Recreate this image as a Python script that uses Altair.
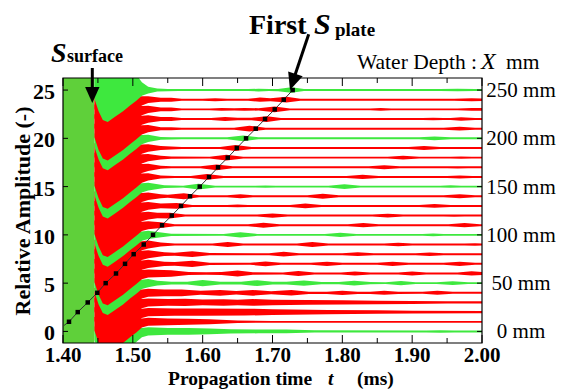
import altair as alt
import pandas as pd

W, H = 419, 265
X_DOMAIN = [1.40, 2.00]
Y_DOMAIN = [-1.2, 26.25]
FONT = "Liberation Serif"
GREEN = "#3ee83e"
RED = "#ff0000"
SAT_GREEN = "#5fd03a"

# ---- saturated early part (all traces overlap) ----
saturated_start = [1.400]
saturated_end = [1.445]

# ---- shared envelope of the strong surface echo (offset below / above each trace) ----
dense_t = [1.445, 1.451, 1.457, 1.464, 1.474, 1.486, 1.496, 1.505, 1.513]
dense_lo = [0.9, 2.2, 3.1, 3.3, 2.8, 2.2, 1.6, 1.1, 0.6]
dense_hi = [0.5, 0.5, 0.5, 0.5, 0.5, 0.5, 0.45, 0.35, 0.35]
dense_hi_top = [2.0, 2.0, 2.0, 2.0, 2.0, 2.0, 2.0, 1.6, 0.8]

# ---- tail envelopes (time ms, half amplitude) per water depth trace ----
env_0 = [(1.522,0.42),(1.55,0.35),(1.58,0.35),(1.61,0.3),(1.64,0.22),(1.68,0.2),(1.72,0.2),(1.76,0.12),(1.92,0.1),(1.94,0.13),(1.96,0.1),(2.0,0.1)]
env_1 = [(1.522,0.42),(1.55,0.35),(1.58,0.3),(1.61,0.25),(1.65,0.12),(1.70,0.09),(2.0,0.09)]
env_2 = [(1.522,0.42),(1.56,0.38),(1.60,0.38),(1.66,0.36),(1.70,0.3),(1.78,0.22),(1.85,0.18),(1.90,0.14),(2.0,0.12)]
env_3 = [(1.522,0.42),(1.55,0.35),(1.575,0.38),(1.60,0.3),(1.63,0.33),(1.65,0.28),(1.672,0.35),(1.70,0.28),(1.75,0.25),(1.80,0.22),(1.85,0.18),(1.90,0.15),(1.95,0.12),(2.0,0.12)]
env_4 = [(1.522,0.42),(1.545,0.35),(1.57,0.35),(1.597,0.2),(1.625,0.3),(1.648,0.18),(1.672,0.3),(1.698,0.15),(1.727,0.28),(1.752,0.12),(1.778,0.12),(1.80,0.22),(1.822,0.12),(1.84,0.12),(1.86,0.2),(1.88,0.12),(1.915,0.1),(1.936,0.2),(1.958,0.1),(2.0,0.1)]
env_5 = [(1.522,0.42),(1.535,0.25),(1.555,0.15),(1.578,0.15),(1.60,0.33),(1.625,0.15),(1.655,0.15),(1.678,0.3),(1.70,0.15),(1.72,0.15),(1.745,0.28),(1.77,0.12),(1.795,0.12),(1.817,0.25),(1.84,0.12),(1.862,0.1),(1.884,0.22),(1.905,0.1),(1.935,0.1),(1.958,0.2),(1.98,0.1),(2.0,0.1)]
env_6 = [(1.522,0.42),(1.555,0.33),(1.58,0.15),(1.605,0.12),(1.627,0.15),(1.65,0.3),(1.672,0.12),(1.715,0.1),(1.737,0.25),(1.76,0.1),(1.798,0.1),(1.818,0.2),(1.84,0.1),(1.88,0.1),(1.90,0.2),(1.92,0.1),(1.965,0.1),(1.985,0.22),(2.0,0.15)]
env_7 = [(1.522,0.42),(1.545,0.22),(1.56,0.2),(1.585,0.33),(1.61,0.12),(1.668,0.1),(1.69,0.25),(1.712,0.1),(1.755,0.1),(1.778,0.22),(1.80,0.1),(1.85,0.1),(1.872,0.22),(1.895,0.1),(1.945,0.1),(1.968,0.22),(1.99,0.1),(2.0,0.1)]
env_8 = [(1.522,0.42),(1.545,0.2),(1.56,0.15),(1.585,0.3),(1.61,0.12),(1.695,0.1),(1.716,0.25),(1.738,0.1),(1.80,0.1),(1.822,0.2),(1.845,0.1),(1.905,0.1),(1.925,0.18),(1.945,0.1),(2.0,0.1)]
env_9 = [(1.522,0.42),(1.54,0.2),(1.56,0.1),(1.614,0.1),(1.636,0.25),(1.658,0.1),(1.735,0.1),(1.757,0.25),(1.78,0.1),(1.86,0.1),(1.88,0.18),(1.90,0.1),(1.975,0.1),(1.99,0.12),(2.0,0.1)]
env_10 = [(1.522,0.42),(1.535,0.3),(1.555,0.12),(1.63,0.1),(1.654,0.27),(1.678,0.1),(1.775,0.1),(1.797,0.22),(1.82,0.1),(1.915,0.1),(1.93,0.15),(1.945,0.1),(2.0,0.1)]
env_11 = [(1.522,0.42),(1.54,0.3),(1.56,0.1),(1.665,0.1),(1.687,0.25),(1.71,0.1),(1.808,0.1),(1.83,0.22),(1.852,0.1),(1.952,0.1),(1.975,0.22),(1.997,0.1),(2.0,0.1)]
env_12 = [(1.522,0.4),(1.535,0.28),(1.553,0.3),(1.575,0.1),(1.678,0.1),(1.70,0.22),(1.722,0.1),(1.843,0.1),(1.865,0.2),(1.887,0.1),(1.945,0.1),(1.96,0.12),(1.975,0.1),(2.0,0.1)]
env_13 = [(1.522,0.4),(1.54,0.25),(1.563,0.3),(1.585,0.1),(1.635,0.1),(1.65,0.15),(1.665,0.1),(1.725,0.1),(1.747,0.25),(1.77,0.1),(1.91,0.1),(1.932,0.2),(1.955,0.1),(2.0,0.1)]
env_14 = [(1.522,0.4),(1.54,0.2),(1.55,0.15),(1.573,0.3),(1.595,0.1),(1.635,0.1),(1.654,0.2),(1.672,0.1),(1.75,0.1),(1.772,0.25),(1.795,0.1),(1.945,0.1),(1.968,0.2),(1.99,0.1),(2.0,0.1)]
env_15 = [(1.522,0.4),(1.545,0.15),(1.56,0.12),(1.572,0.1),(1.594,0.3),(1.618,0.1),(1.675,0.1),(1.69,0.12),(1.705,0.1),(1.78,0.1),(1.803,0.25),(1.826,0.1),(1.94,0.1),(1.955,0.13),(1.97,0.1),(2.0,0.1)]
env_16 = [(1.522,0.38),(1.54,0.15),(1.56,0.1),(1.583,0.1),(1.606,0.3),(1.63,0.1),(1.806,0.1),(1.829,0.22),(1.852,0.1),(1.95,0.1),(1.968,0.15),(1.986,0.1),(2.0,0.1)]
env_17 = [(1.522,0.38),(1.54,0.15),(1.555,0.1),(1.597,0.1),(1.62,0.3),(1.643,0.1),(1.838,0.1),(1.86,0.2),(1.882,0.1),(1.95,0.1),(1.965,0.12),(1.98,0.1),(2.0,0.1)]
env_18 = [(1.522,0.38),(1.54,0.2),(1.555,0.12),(1.61,0.1),(1.634,0.3),(1.658,0.1),(1.865,0.1),(1.887,0.2),(1.91,0.1),(1.955,0.1),(1.97,0.12),(1.985,0.1),(2.0,0.1)]
env_19 = [(1.522,0.38),(1.54,0.2),(1.555,0.15),(1.57,0.1),(1.625,0.1),(1.647,0.3),(1.67,0.1),(1.895,0.1),(1.917,0.2),(1.94,0.1),(2.0,0.1)]
env_20 = [(1.522,0.38),(1.54,0.15),(1.555,0.12),(1.57,0.1),(1.635,0.1),(1.658,0.3),(1.68,0.1),(1.91,0.1),(1.932,0.2),(1.955,0.1),(2.0,0.1)]
env_21 = [(1.522,0.38),(1.54,0.15),(1.555,0.15),(1.57,0.1),(1.645,0.1),(1.667,0.3),(1.69,0.1),(1.945,0.1),(1.968,0.2),(1.99,0.1),(2.0,0.1)]
env_22 = [(1.522,0.38),(1.54,0.2),(1.555,0.2),(1.57,0.1),(1.612,0.1),(1.632,0.2),(1.65,0.12),(1.67,0.12),(1.692,0.3),(1.712,0.1),(1.915,0.1),(1.93,0.12),(1.945,0.1),(1.955,0.1),(1.97,0.18),(1.99,0.1),(2.0,0.1)]
env_23 = [(1.522,0.38),(1.54,0.2),(1.555,0.2),(1.57,0.1),(1.61,0.1),(1.627,0.15),(1.645,0.12),(1.66,0.15),(1.68,0.12),(1.703,0.3),(1.725,0.1),(1.84,0.1),(1.855,0.13),(1.87,0.1),(1.965,0.1),(1.985,0.15),(2.0,0.13)]
env_24 = [(1.522,0.35),(1.54,0.2),(1.555,0.2),(1.57,0.1),(1.60,0.1),(1.618,0.15),(1.635,0.1),(1.665,0.1),(1.682,0.22),(1.697,0.15),(1.72,0.3),(1.74,0.1),(1.96,0.1),(1.985,0.15),(2.0,0.12)]
env_25 = [(1.522,0.35),(1.535,0.15),(1.55,0.12),(1.565,0.1),(1.665,0.1),(1.68,0.14),(1.695,0.1),(1.708,0.12),(1.727,0.28),(1.745,0.1),(1.94,0.1),(1.965,0.13),(1.99,0.1),(2.0,0.1)]

envelopes = [env_0, env_1, env_2, env_3, env_4, env_5, env_6, env_7, env_8, env_9,
             env_10, env_11, env_12, env_13, env_14, env_15, env_16, env_17, env_18,
             env_19, env_20, env_21, env_22, env_23, env_24, env_25]

# ---- first S_plate arrival curve ----
splate_depth = [0.62, 1, 2, 3, 4, 5, 6, 7, 8, 9, 10, 11, 12, 13, 14, 15, 16, 17, 18, 19, 20, 21, 22, 23, 24, 25]
splate_t = [1.4015, 1.4086, 1.4211, 1.4354, 1.4491, 1.4611, 1.4759, 1.4888, 1.5012, 1.5156, 1.5289,
            1.5418, 1.5557, 1.5690, 1.5819, 1.5958, 1.6091, 1.6220, 1.6359, 1.6489, 1.6621,
            1.6760, 1.6893, 1.7032, 1.7161, 1.7289]
splate_marked = [False] + [True] * 25

# ---- axes ----
x_major = [1.40, 1.50, 1.60, 1.70, 1.80, 1.90, 2.00]
x_major_labels = ["1.40", "1.50", "1.60", "1.70", "1.80", "1.90", "2.00"]
x_minor = [1.45, 1.55, 1.65, 1.75, 1.85, 1.95]
y_ticks = [0, 5, 10, 15, 20, 25]
y_left_labels = ["0", "5", "10", "15", "20", "25"]
y_right_labels = ["0 mm", "50 mm", "100 mm", "150 mm", "200 mm", "250 mm"]

# ---------------------------------------------------------------
rows = []
for n, env in enumerate(envelopes):
    hi_arr = dense_hi_top if n == 25 else dense_hi
    for t, lo, hi in zip(dense_t, dense_lo, hi_arr):
        rows.append({"trace": n, "t": t, "low": n - lo, "high": n + hi})
    for t, a in env:
        rows.append({"trace": n, "t": t, "low": n - a, "high": n + a})
trace_df = pd.DataFrame(rows)

xs = alt.Scale(domain=X_DOMAIN, nice=False, zero=False)
ys = alt.Scale(domain=Y_DOMAIN, nice=False, zero=False)

layers = []

sat_df = pd.DataFrame({"t0": saturated_start, "t1": saturated_end})
layers.append(alt.Chart(sat_df).mark_rect(color=SAT_GREEN, clip=True).encode(
    x=alt.X("t0:Q", scale=xs, axis=None), x2="t1:Q",
    y=alt.value(0), y2=alt.value(H)))

for n in range(len(envelopes)):
    col = GREEN if n % 5 == 0 else RED
    layers.append(alt.Chart(trace_df).transform_filter(alt.datum.trace == n).mark_area(
        color=col, clip=True, interpolate="linear", opacity=1).encode(
        x=alt.X("t:Q", scale=xs, axis=None),
        y=alt.Y("low:Q", scale=ys, axis=None),
        y2="high:Q"))

sp_df = pd.DataFrame({"t": splate_t, "d": splate_depth, "m": splate_marked})
layers.append(alt.Chart(sp_df).mark_line(color="#333333", strokeWidth=1, clip=True).encode(
    x=alt.X("t:Q", scale=xs, axis=None), y=alt.Y("d:Q", scale=ys, axis=None)))
layers.append(alt.Chart(sp_df).transform_filter(alt.datum.m).mark_square(
    color="black", size=20, opacity=1).encode(
    x=alt.X("t:Q", scale=xs, axis=None), y=alt.Y("d:Q", scale=ys, axis=None)))

# ticks (inward)
maj_df = pd.DataFrame({"t": x_major, "lab": x_major_labels})
min_df = pd.DataFrame({"t": x_minor})
yt_df = pd.DataFrame({"v": y_ticks, "l": y_left_labels, "r": y_right_labels})
for df_, ln in ((maj_df, 8), (min_df, 5)):
    layers.append(alt.Chart(df_).mark_rule(color="black", strokeWidth=1).encode(
        x=alt.X("t:Q", scale=xs, axis=None), y=alt.value(H), y2=alt.value(H - ln)))
    layers.append(alt.Chart(df_).mark_rule(color="black", strokeWidth=1).encode(
        x=alt.X("t:Q", scale=xs, axis=None), y=alt.value(0), y2=alt.value(ln)))
layers.append(alt.Chart(yt_df).mark_rule(color="black", strokeWidth=1).encode(
    y=alt.Y("v:Q", scale=ys, axis=None), x=alt.value(0), x2=alt.value(5)))
layers.append(alt.Chart(yt_df).mark_rule(color="black", strokeWidth=1).encode(
    y=alt.Y("v:Q", scale=ys, axis=None), x=alt.value(W), x2=alt.value(W - 5)))

# frame
one = pd.DataFrame({"k": [0]})
layers.append(alt.Chart(one).mark_rect(filled=False, stroke="black", strokeWidth=1.2).encode(
    x=alt.value(0), x2=alt.value(W), y=alt.value(0), y2=alt.value(H)))

# tick labels
layers.append(alt.Chart(maj_df).mark_text(font=FONT, fontWeight="bold", fontSize=21,
    align="center", baseline="alphabetic", color="black").encode(
    x=alt.X("t:Q", scale=xs, axis=None), y=alt.value(284), text="lab:N"))
layers.append(alt.Chart(yt_df).mark_text(font=FONT, fontWeight="bold", fontSize=22,
    align="right", baseline="alphabetic", dy=9, color="black").encode(
    y=alt.Y("v:Q", scale=ys, axis=None), x=alt.value(-8), text="l:N"))
layers.append(alt.Chart(yt_df).mark_text(font=FONT, fontSize=21,
    align="center", baseline="alphabetic", dy=7, color="black").encode(
    y=alt.Y("v:Q", scale=ys, axis=None), x=alt.value(458), text="r:N"))

def txt(s, x, y, size, weight="normal", style="normal", align="left", angle=0, baseline="alphabetic"):
    return alt.Chart(pd.DataFrame({"s": [s]})).mark_text(
        font=FONT, fontSize=size, fontWeight=weight, fontStyle=style, align=align,
        baseline=baseline, angle=angle, color="black").encode(
        x=alt.value(x), y=alt.value(y), text="s:N")

# axis titles
layers.append(txt("Propagation time", 105, 307, 19.5, "bold"))
layers.append(txt("t", 265, 307, 19.5, "bold", "italic"))
layers.append(txt("(ms)", 294, 307, 19.5, "bold"))
layers.append(txt("Relative Amplitude (-)", -40, 133, 22, "bold", angle=270, align="center", baseline="middle"))

# annotations
layers.append(txt("Water Depth :", 294, -9, 21.5))
layers.append(txt("X", 418, -9, 24, style="italic"))
layers.append(txt("mm", 443, -9, 21.5))
layers.append(txt("S", -12, -16, 28, "bold", "italic"))
layers.append(txt("surface", 4, -16, 18, "bold"))
layers.append(txt("First", 186, -44, 28, "bold"))
layers.append(txt("S", 251, -44, 30, "bold", "italic"))
layers.append(txt("plate", 272, -42, 19, "bold"))

# arrows
layers.append(alt.Chart(one).mark_rule(color="black", strokeWidth=3).encode(
    x=alt.value(29.3), y=alt.value(-10), y2=alt.value(11)))
layers.append(alt.Chart(one).mark_point(shape="M-0.9,-1L0.9,-1L0,1Z", filled=True, color="black",
    size=256, opacity=1, strokeWidth=0).encode(x=alt.value(29.3), y=alt.value(17)))
layers.append(alt.Chart(one).mark_rule(color="black", strokeWidth=3).encode(
    x=alt.value(245.7), y=alt.value(-43.7), x2=alt.value(231), y2=alt.value(0)))
layers.append(alt.Chart(one).mark_point(shape="M-0.9,-1L0.9,-1L0,1Z", filled=True, color="black",
    size=289, angle=18.6, opacity=1, strokeWidth=0).encode(x=alt.value(229.7), y=alt.value(3.9)))

chart = alt.layer(*layers).properties(
    width=W, height=H,
    autosize=alt.AutoSizeParams(type="none"),
    padding={"left": 55, "top": 70, "right": 75, "bottom": 47},
).configure_view(stroke=None)

chart.save("out.html", embed_options={"renderer": "svg", "actions": False})
